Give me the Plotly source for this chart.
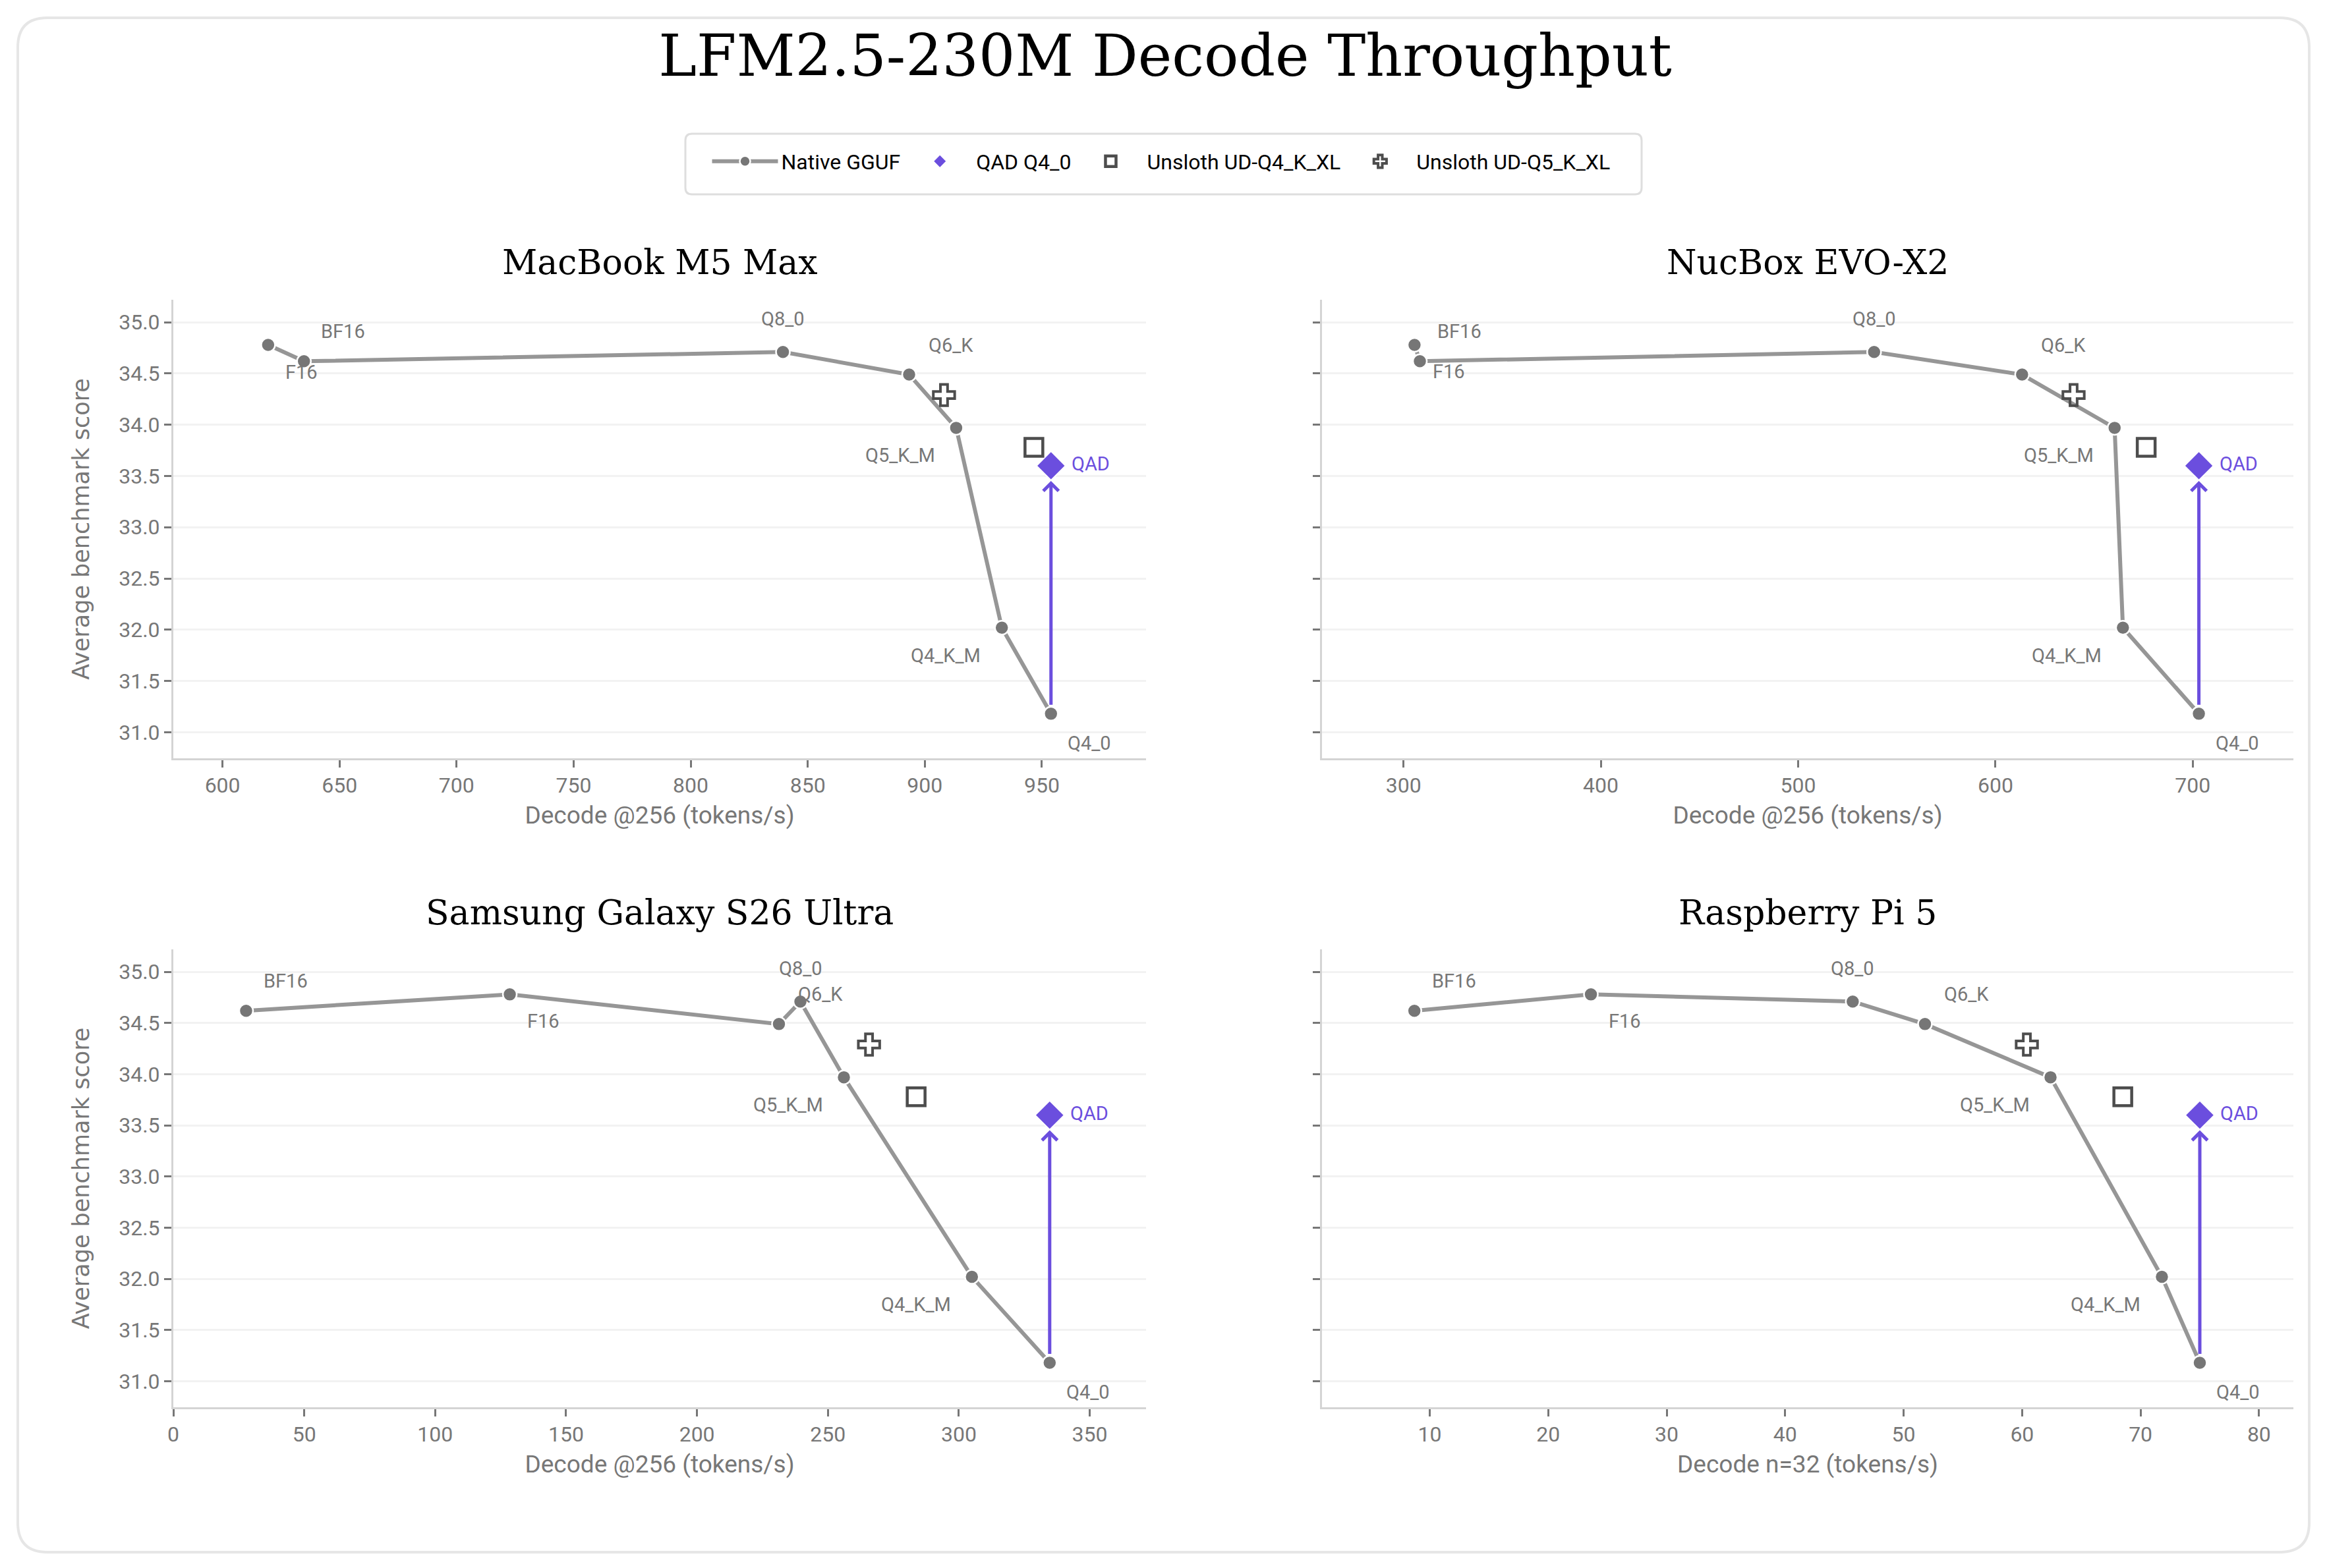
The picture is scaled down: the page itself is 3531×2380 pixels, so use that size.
import plotly.graph_objects as go

W, H = 3531, 2380

devices = ["MacBook M5 Max", "NucBox EVO-X2", "Samsung Galaxy S26 Ultra", "Raspberry Pi 5"]
x_titles = ["Decode @256 (tokens/s)", "Decode @256 (tokens/s)",
            "Decode @256 (tokens/s)", "Decode n=32 (tokens/s)"]
quants = ["BF16", "F16", "Q8_0", "Q6_K", "Q5_K_M", "Q4_K_M", "Q4_0"]

# native GGUF: decode throughput and average benchmark score per quant
macbook_decode = [619.5, 634.8, 839.4, 893.3, 913.4, 932.9, 953.9]
macbook_score = [34.78, 34.62, 34.71, 34.49, 33.97, 32.02, 31.18]
nucbox_decode = [305.6, 308.3, 538.5, 613.5, 660.4, 664.6, 703.1]
nucbox_score = [34.78, 34.62, 34.71, 34.49, 33.97, 32.02, 31.18]
samsung_decode = [27.8, 128.5, 239.5, 231.3, 256.1, 305.0, 334.7]
samsung_score = [34.62, 34.78, 34.71, 34.49, 33.97, 32.02, 31.18]
rpi_decode = [8.7, 23.6, 45.7, 51.8, 62.4, 71.8, 75.0]
rpi_score = [34.62, 34.78, 34.71, 34.49, 33.97, 32.02, 31.18]

# QAD Q4_0 and Unsloth dynamic quants, one value per device
qad_decode = [953.9, 703.1, 334.7, 75.0]
qad_score = [33.60, 33.60, 33.60, 33.60]
ud_q4_decode = [946.6, 676.4, 283.7, 68.5]
ud_q4_score = [33.78, 33.78, 33.78, 33.78]
ud_q5_decode = [908.2, 639.6, 265.7, 60.4]
ud_q5_score = [34.29, 34.29, 34.29, 34.29]

native_decode = [macbook_decode, nucbox_decode, samsung_decode, rpi_decode]
native_score = [macbook_score, nucbox_score, samsung_score, rpi_score]

# layout of the four panels (pixels in the final picture)
panel_x = [(263, 1739), (2006, 3480), (263, 1739), (2006, 3480)]
panel_y = [(455, 1151), (455, 1151), (1441, 2136), (1441, 2136)]
title_y = [398, 398, 1385, 1385]
x_ranges = [[579, 994.5], [258.7, 751], [0, 371.5], [0.9, 82.9]]
x_dticks = [50, 100, 50, 10]
y_range = [30.745, 35.22]

# label offsets (dx, dy) in pixels, dy downward
label_off = {"BF16": (60, -45), "F16": (51, 41), "Q8_0": (0, -50), "Q6_K": (63, -45),
             "Q5_K_M": (-85, 42), "Q4_K_M": (-85, 42), "Q4_0": (58, 45), "QAD": (60, -3)}
label_fix = [{"BF16": (114, -20), "F16": (-4, 17)},
             {"BF16": (68, -20), "F16": (44, 16)}, {}, {}]

GRAY_LINE = "#969696"
GRAY_PT = "#767676"
PURPLE = "#6b4ede"
DARK = "#4d4d4d"
TXT = "#777777"
TICKFONT = "Roboto"
PAGE_OFF = 8  # page body margin


def px_x(p):
    return (p - PAGE_OFF) / W


def px_y(p):
    return 1 - (p - PAGE_OFF) / H


def rounded(xa, xb, ya, yb, r):
    # rounded rectangle path in paper units from pixel box
    x0, x1 = px_x(xa), px_x(xb)
    y0, y1 = px_y(ya), px_y(yb)
    rx, ry = r / W, r / H
    return (f"M{x0 + rx},{y0} L{x1 - rx},{y0} Q{x1},{y0} {x1},{y0 - ry} "
            f"L{x1},{y1 + ry} Q{x1},{y1} {x1 - rx},{y1} "
            f"L{x0 + rx},{y1} Q{x0},{y1} {x0},{y1 + ry} "
            f"L{x0},{y0 - ry} Q{x0},{y0} {x0 + rx},{y0} Z")


fig = go.Figure()
annotations = []

for i, dev in enumerate(devices):
    n = i + 1
    xa = "x" if n == 1 else f"x{n}"
    ya = "y" if n == 1 else f"y{n}"
    first = i == 0

    pts = sorted(zip(native_decode[i], native_score[i]))
    fig.add_trace(go.Scatter(
        x=[p[0] for p in pts], y=[p[1] for p in pts], mode="lines+markers",
        name="Native GGUF", legendgroup="native", showlegend=first,
        line=dict(color=GRAY_LINE, width=6),
        marker=dict(color=GRAY_PT, size=21, line=dict(color="white", width=2.5)),
        xaxis=xa, yaxis=ya))
    fig.add_trace(go.Scatter(
        x=[qad_decode[i]], y=[qad_score[i]], mode="markers", name="QAD Q4_0",
        legendgroup="qad", showlegend=first,
        marker=dict(symbol="diamond", color=PURPLE, size=34, line=dict(color="white", width=2)),
        xaxis=xa, yaxis=ya))
    fig.add_trace(go.Scatter(
        x=[ud_q4_decode[i]], y=[ud_q4_score[i]], mode="markers", name="Unsloth UD-Q4_K_XL",
        legendgroup="ud4", showlegend=first,
        marker=dict(symbol="square-open", color=DARK, size=27, line=dict(color=DARK, width=4.5)),
        xaxis=xa, yaxis=ya))
    fig.add_trace(go.Scatter(
        x=[ud_q5_decode[i]], y=[ud_q5_score[i]], mode="markers", name="Unsloth UD-Q5_K_XL",
        legendgroup="ud5", showlegend=first,
        marker=dict(symbol="cross-open", color=DARK, size=27, line=dict(color=DARK, width=4)),
        xaxis=xa, yaxis=ya))

    # arrow from native Q4_0 up to QAD Q4_0
    annotations.append(dict(
        x=qad_decode[i], y=qad_score[i], ax=native_decode[i][-1], ay=native_score[i][-1],
        xref=xa, yref=ya, axref=xa, ayref=ya, text="", showarrow=True,
        arrowhead=4, arrowsize=0.9, arrowwidth=5, arrowcolor=PURPLE,
        standoff=23, startstandoff=12))

    offs = dict(label_off)
    offs.update(label_fix[i])
    for q, xv, yv in zip(quants, native_decode[i], native_score[i]):
        dx, dy = offs[q]
        annotations.append(dict(
            x=xv, y=yv, xref=xa, yref=ya, text=q, showarrow=False,
            xshift=dx, yshift=-dy, font=dict(family=TICKFONT, size=29, color=TXT)))
    dx, dy = offs["QAD"]
    annotations.append(dict(
        x=qad_decode[i], y=qad_score[i], xref=xa, yref=ya, text="QAD", showarrow=False,
        xshift=dx, yshift=-dy, font=dict(family=TICKFONT, size=29, color=PURPLE)))

    # panel title
    annotations.append(dict(
        x=px_x((panel_x[i][0] + panel_x[i][1]) / 2), y=px_y(title_y[i]),
        xref="paper", yref="paper", text=dev, showarrow=False,
        xanchor="center", yanchor="middle",
        font=dict(family="DejaVu Serif", size=52, color="black")))

    left = i % 2 == 0
    axis_common = dict(
        showline=True, linecolor="#d4d4d4", linewidth=3, mirror=False,
        ticks="outside", ticklen=11, tickwidth=3, tickcolor=TXT, automargin=False,
        tickfont=dict(family=TICKFONT, size=32, color=TXT), zeroline=False)
    fig.update_layout({
        ("xaxis" if n == 1 else f"xaxis{n}"): dict(
            axis_common, domain=[px_x(panel_x[i][0]), px_x(panel_x[i][1])],
            anchor=ya, range=x_ranges[i], dtick=x_dticks[i], tick0=0, showgrid=False,
            title=dict(text=x_titles[i], standoff=14,
                       font=dict(family=TICKFONT, size=37, color=TXT))),
        ("yaxis" if n == 1 else f"yaxis{n}"): dict(
            axis_common, domain=[px_y(panel_y[i][1]), px_y(panel_y[i][0])],
            anchor=xa, range=y_range, dtick=0.5, tick0=31, tickformat=".1f",
            showgrid=True, gridcolor="#f2f2f2", gridwidth=3,
            showticklabels=left,
            title=dict(text="Average benchmark score" if left else "", standoff=34,
                       font=dict(family="DejaVu Sans", size=35, color=TXT))),
    })

fig.update_layout(
    width=W, height=H, autosize=False,
    margin=dict(l=0, r=0, t=0, b=0),
    paper_bgcolor="white", plot_bgcolor="white",
    title=dict(text="LFM2.5-230M Decode Throughput", x=px_x(1768), xanchor="center",
               y=px_y(85), yanchor="middle",
               font=dict(family="DejaVu Serif", size=87, color="black")),
    legend=dict(orientation="h", x=px_x(1762), xanchor="center", y=px_y(245), yanchor="middle",
                borderwidth=0, bgcolor="rgba(0,0,0,0)",
                font=dict(family=TICKFONT, size=32, color="black"),
                itemwidth=100, tracegroupgap=0),
    annotations=annotations,
    shapes=[
        dict(type="path", path=rounded(27, 3504, 27, 2356, 45), xref="paper", yref="paper",
             line=dict(color="#e6e6e6", width=4), layer="below"),
        dict(type="path", path=rounded(1040, 2491, 203, 295, 10), xref="paper", yref="paper",
             line=dict(color="#dedede", width=3), layer="below"),
    ],
)

fig.write_html("out.html")
